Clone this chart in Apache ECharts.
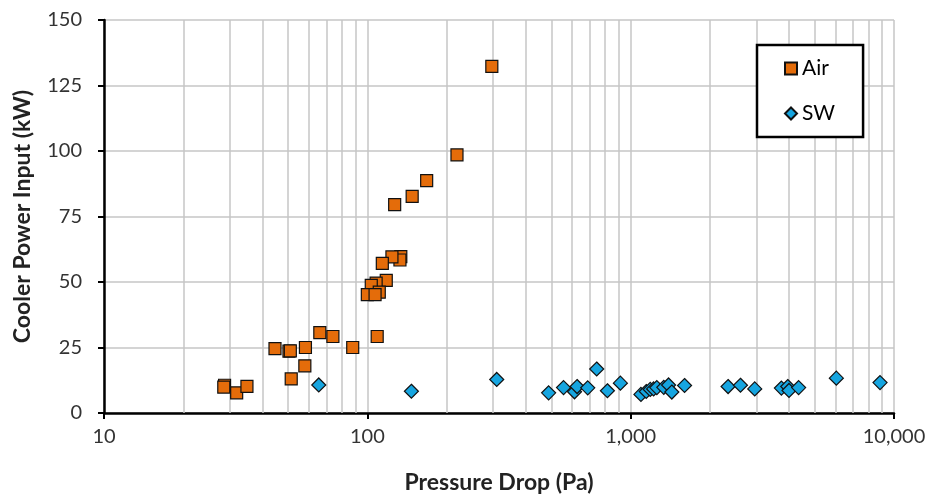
<!DOCTYPE html>
<html>
<head>
<meta charset="utf-8">
<script src="https://cdn.jsdelivr.net/npm/echarts@6/dist/echarts.min.js"></script>
<style>
  html, body { margin: 0; padding: 0; background: #fff; }
  #chart { width: 931px; height: 499px; }
</style>
</head>
<body>
<div id="chart"></div>
<script>
// Air-cooled units: pressure drop (Pa) vs cooler power input (kW)
const airPressure = [297, 219, 168, 148, 127, 134, 133, 124, 114, 118, 108, 103.5, 111, 100, 107,
  109, 88, 74, 66, 58.2, 50.4, 51, 44.6, 57.9, 51.4, 28.7, 28.5, 31.9, 34.9];
const airPower = [132.3, 98.5, 88.7, 82.7, 79.5, 59.7, 58.4, 59.6, 57.1, 50.6, 49.6, 48.7, 46.1, 45.2, 45.2,
  29.2, 25.0, 29.2, 30.7, 25.0, 23.6, 23.7, 24.6, 18.0, 13.0, 10.6, 9.9, 7.7, 10.2];

// Seawater-cooled units
const swPressure = [65.4, 147, 310, 488, 556, 612, 626, 687, 743, 816, 914, 1094, 1146, 1187, 1222,
  1257, 1336, 1393, 1433, 1602, 2344, 2612, 2959, 3736, 3949, 3993, 4343, 6040, 8850];
const swPower = [10.7, 8.3, 12.8, 7.7, 9.7, 8.1, 10.1, 9.6, 16.8, 8.5, 11.4, 7.1, 8.2, 9.0, 9.2,
  9.7, 9.8, 10.7, 8.0, 10.5, 10.1, 10.6, 9.2, 9.5, 10.1, 8.6, 9.7, 13.3, 11.6];

// Axis settings
const xMin = 10, xMax = 10000;
const yMin = 0, yMax = 150, yStep = 25;
// Intermediate log gridlines (2..9 within each decade)
const minorGrid = [20, 30, 40, 50, 60, 70, 80, 90,
  200, 300, 400, 500, 600, 700, 800, 900,
  2000, 3000, 4000, 5000, 6000, 7000, 8000, 9000];

const font = 'Lato, "Open Sans", sans-serif';
const gridGray = '#c6c6c6';

const zip = (xs, ys) => xs.map((x, i) => [x, ys[i]]);

const chart = echarts.init(document.getElementById('chart'), null, { renderer: 'canvas' });
chart.setOption({
  animation: false,
  backgroundColor: '#fff',
  textStyle: { fontFamily: font },
  grid: { left: 104, right: 37, top: 20, bottom: 83, containLabel: false },
  legend: {
    orient: 'vertical',
    left: 757,
    top: 45,
    padding: [13, 28, 13, 27],
    itemGap: 24,
    itemWidth: 12,
    itemHeight: 12,
    itemTextGap: 10,
    borderColor: '#000',
    borderWidth: 2.5,
    backgroundColor: '#fff',
    textStyle: { fontFamily: font, fontSize: 21, color: '#000' },
    data: [
      { name: 'Air', icon: 'rect' },
      { name: 'SW', icon: 'diamond' }
    ]
  },
  xAxis: {
    type: 'log',
    logBase: 10,
    min: xMin,
    max: xMax,
    name: 'Pressure Drop (Pa)',
    nameLocation: 'middle',
    nameGap: 58,
    nameTextStyle: { fontFamily: font, fontSize: 23, fontWeight: 'bold', color: '#222' },
    axisLine: { show: true, onZero: false, lineStyle: { color: '#000', width: 2.5 } },
    axisTick: { show: true, inside: false, length: 6, lineStyle: { color: '#000', width: 2 } },
    axisLabel: {
      fontFamily: font, fontSize: 20, color: '#333', margin: 14,
      formatter: v => Number(v).toLocaleString('en-US')
    },
    splitLine: { show: true, lineStyle: { color: gridGray, width: 1.5 } }
  },
  yAxis: {
    type: 'value',
    min: yMin,
    max: yMax,
    interval: yStep,
    name: 'Cooler Power Input (kW)',
    nameLocation: 'middle',
    nameGap: 70,
    nameTextStyle: { fontFamily: font, fontSize: 23, fontWeight: 'bold', color: '#222' },
    axisLine: { show: true, lineStyle: { color: '#000', width: 2.5 } },
    axisTick: { show: true, inside: false, length: 6, lineStyle: { color: '#000', width: 2 } },
    axisLabel: { fontFamily: font, fontSize: 20, color: '#333', margin: 22 },
    splitLine: { show: true, lineStyle: { color: gridGray, width: 1.5 } }
  },
  series: [
    {
      name: 'Air',
      type: 'scatter',
      symbol: 'rect',
      symbolSize: 12,
      z: 3,
      itemStyle: { color: '#E46C0A', borderColor: '#111', borderWidth: 1.2, opacity: 1 },
      data: zip(airPressure, airPower),
      markLine: {
        silent: true,
        symbol: 'none',
        z: 1,
        label: { show: false },
        lineStyle: { color: gridGray, width: 1.5, type: 'solid' },
        data: minorGrid.map(v => ({ xAxis: v }))
      }
    },
    {
      name: 'SW',
      type: 'scatter',
      symbol: 'diamond',
      symbolSize: 14,
      z: 3,
      itemStyle: { color: '#16A5E0', borderColor: '#111', borderWidth: 1.2, opacity: 1 },
      data: zip(swPressure, swPower)
    }
  ]
});
</script>
</body>
</html>
